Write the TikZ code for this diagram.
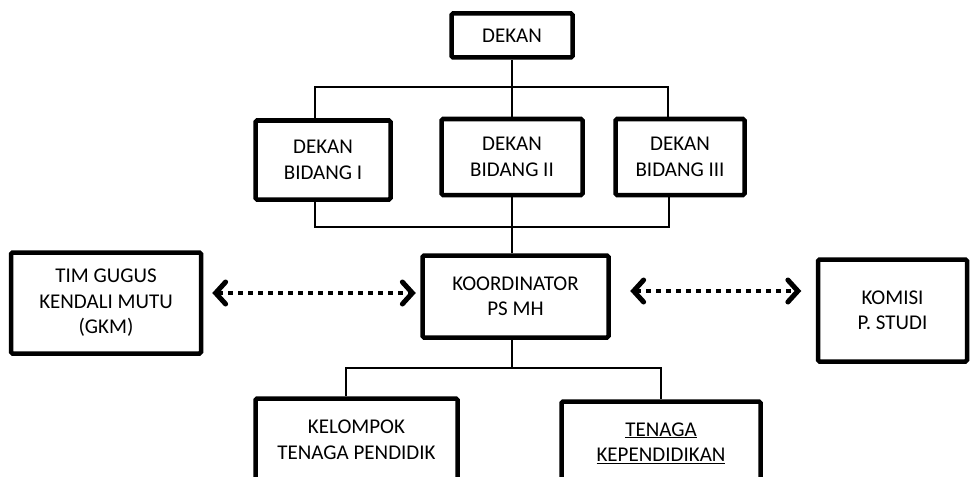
\documentclass[tikz,border=0pt]{standalone}
\usepackage{fontspec}
\setmainfont{Carlito}
\usetikzlibrary{arrows.meta}
\tikzset{
  box/.style={draw, line width=4.5pt, rounded corners=1.5pt, align=center, inner sep=0pt,
    font=\fontsize{21}{25.5}\selectfont},
  link/.style={line width=2.5pt},
  dotlink/.style={line width=4pt, dash pattern=on 5pt off 5pt,
    {Straight Barb[length=10pt,width=22pt,line width=5pt,line cap=round]}-{Straight Barb[length=10pt,width=22pt,line width=5pt,line cap=round]}},
}
\begin{document}
\begin{tikzpicture}[x=1pt, y=-1pt]
\useasboundingbox (0,0) rectangle (976,476);
\clip (0,0) rectangle (976,476);
\node (dekan)  [box, minimum width=121pt, minimum height=44pt]  at (512,35.5)  {DEKAN};
\node (b1)     [box, minimum width=135pt, minimum height=79pt]  at (323,160)   {DEKAN\\BIDANG I};
\node (b2)     [box, minimum width=141pt, minimum height=76pt]  at (512,157)   {DEKAN\\BIDANG II};
\node (b3)     [box, minimum width=129pt, minimum height=76pt]  at (680,157)   {DEKAN\\BIDANG III};
\node (koor)   [box, minimum width=186pt, minimum height=82pt]  at (515.5,296.5) {KOORDINATOR\\PS MH};
\node (tim)    [box, minimum width=190pt, minimum height=101pt] at (106,303)   {TIM GUGUS\\KENDALI MUTU\\(GKM)};
\node (komisi) [box, minimum width=149pt, minimum height=102pt] at (892.5,310.5) {KOMISI\\P. STUDI};
\node (kel)    [box, minimum width=202pt, minimum height=83pt]  at (356.5,440) {KELOMPOK\\TENAGA PENDIDIK};
\node (ten)    [box, minimum width=199pt, minimum height=83pt]  at (661,443)   {\underline{TENAGA}\\\underline{KEPENDIDIKAN}};
% wakil dekan
\coordinate (tl) at (315,87);
\coordinate (tr) at (668,87);
\coordinate (bl) at (315,227);
\coordinate (br) at (669,227);
\draw [link] (dekan.south) -- (b2.north);
\draw [link] (tl |- b1.north) -- (tl) -- (tr) -- (tr |- b3.north);
\draw [link] (bl |- b1.south) -- (bl) -- (br) -- (br |- b3.south);
\draw [link] (b2.south) -- (b2.south |- koor.north);
% bawah koordinator
\coordinate (ll) at (346,368);
\coordinate (lr) at (661,368);
\draw [link] (b2.south |- koor.south) -- (b2.south |- ll);
\draw [link] (ll |- kel.north) -- (ll) -- (lr) -- (lr |- ten.north);
% koordinasi
\coordinate (al) at ([yshift=3.5pt]koor.west);
\coordinate (ar) at ([yshift=5.5pt]koor.east);
\draw [dotlink, shorten <=9pt, shorten >=4.5pt] (al -| tim.east) -- (al);
\draw [dotlink, shorten <=19.5pt, shorten >=14.5pt] (ar) -- (ar -| komisi.west);
\end{tikzpicture}
\end{document}
